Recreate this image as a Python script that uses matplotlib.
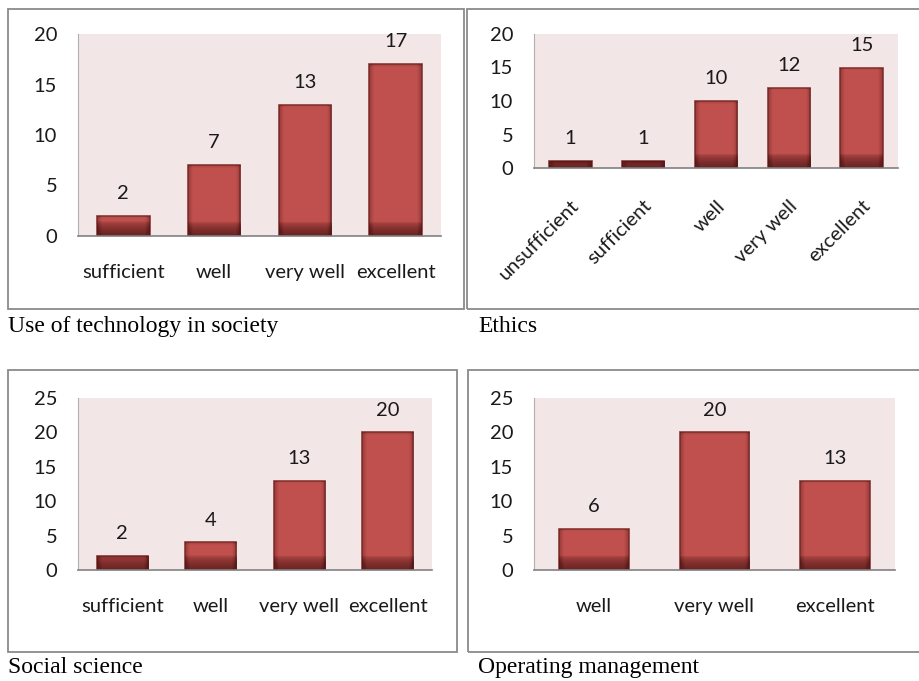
import matplotlib
matplotlib.use("Agg")
import matplotlib.pyplot as plt
import numpy as np
from matplotlib.patches import Rectangle

W, H = 919, 681

# data per panel
tech_cats = ["sufficient", "well", "very well", "excellent"]
tech_vals = [2, 7, 13, 17]

ethics_cats = ["unsufficient", "sufficient", "well", "very well", "excellent"]
ethics_vals = [1, 1, 10, 12, 15]

social_cats = ["sufficient", "well", "very well", "excellent"]
social_vals = [2, 4, 13, 20]

oper_cats = ["well", "very well", "excellent"]
oper_vals = [6, 20, 13]

BAR = "#C0504D"
EDGE = "#8C3836"
BG = "#F2E6E6"
FONT = "Lato"
SERIF = "Liberation Serif"
FS = 14.5

fig = plt.figure(figsize=(W / 100, H / 100), dpi=100)
fig.patch.set_facecolor("white")


def px_axes(l, t, r, b):
    return fig.add_axes([l / W, 1 - b / H, (r - l) / W, (b - t) / H])


def frame(l, t, r, b):
    fig.patches.append(Rectangle((l / W, 1 - b / H), (r - l) / W, (b - t) / H,
                                 transform=fig.transFigure, fill=False,
                                 edgecolor="#8a8a8a", lw=1.3))


def shade_bar(ax, x0, x1, v, px_per_unit, bar_px_w, rect):
    rows = max(int(v * px_per_unit), 2)
    cols = max(int(bar_px_w), 2)
    d = np.arange(rows)[:, None] + 0.5          # distance from bottom, px
    dx = np.arange(cols)[None, :] + 0.5
    edge = np.minimum(dx, cols - dx)
    a_v = np.clip(1 - d / 14.0, 0, 1) ** 0.5 * 0.72
    a_h = np.clip(1 - edge / 5.0, 0, 1) * 0.35
    a_t = np.clip(1 - (rows - d) / 3.0, 0, 1) * 0.25
    alpha = np.clip(a_v + a_h + a_t, 0, 0.8)
    img = np.zeros((rows, cols, 4))
    img[..., 0] = 0.28
    img[..., 1] = 0.07
    img[..., 2] = 0.07
    img[..., 3] = alpha
    im = ax.imshow(img, extent=[x0, x1, 0, v], origin="lower", aspect="auto",
                   interpolation="bilinear", zorder=3)
    im.set_clip_path(rect)


def panel(rect_px, cats, vals, ymax, rotate=False):
    l, t, r, b = rect_px
    ax = px_axes(l, t, r, b)
    ax.set_facecolor(BG)
    n = len(cats)
    x = np.arange(n)
    width = 0.58
    bars = ax.bar(x, vals, width=width, color=BAR, edgecolor=EDGE, lw=1.2, zorder=2)
    ax.set_xlim(-0.5, n - 0.5)
    ax.set_ylim(0, ymax)
    px_per_unit = (b - t) / ymax
    bar_px_w = width * (r - l) / n
    for xi, v, rect in zip(x, vals, bars):
        shade_bar(ax, xi - width / 2, xi + width / 2, v, px_per_unit, bar_px_w, rect)
        ax.annotate(str(v), (xi, v), xytext=(0, 10), textcoords="offset points",
                    ha="center", va="bottom", fontsize=FS, family=FONT, color="#1a1a1a")
    ax.set_yticks(np.arange(0, ymax + 1, 5))
    ax.set_xticks(x)
    if rotate:
        ax.set_xticklabels(cats, rotation=45, ha="right", va="top", rotation_mode="anchor")
        ax.tick_params(axis="x", length=0, pad=21)
    else:
        ax.set_xticklabels(cats)
        ax.tick_params(axis="x", length=0, pad=20)
    ax.tick_params(axis="y", length=0, pad=15)
    for lab in ax.get_xticklabels() + ax.get_yticklabels():
        lab.set_fontfamily(FONT)
        lab.set_fontsize(FS)
        lab.set_color("#1a1a1a")
    for s in ("top", "right"):
        ax.spines[s].set_visible(False)
    ax.spines["left"].set_color("#b0b0b0")
    ax.spines["left"].set_linewidth(0.8)
    ax.spines["bottom"].set_color("#808080")
    ax.spines["bottom"].set_linewidth(1.2)
    ax.spines["bottom"].set_zorder(4)
    return ax


frame(8, 9, 464, 309)
frame(467, 9, 922, 309)
frame(8, 370, 457, 652)
frame(468, 370, 922, 652)

panel((78, 34, 441, 236), tech_cats, tech_vals, 20)
panel((534, 34, 898, 168), ethics_cats, ethics_vals, 20, rotate=True)
panel((78, 398, 432, 570), social_cats, social_vals, 25)
panel((534, 398, 895, 570), oper_cats, oper_vals, 25)

captions = [("Use of technology in society", 8, 332),
            ("Ethics", 478, 332),
            ("Social science", 8, 673),
            ("Operating management", 478, 673)]
for txt, cx, cy in captions:
    fig.text(cx / W, 1 - cy / H, txt, family=SERIF, fontsize=17,
             ha="left", va="baseline", color="black")

fig.savefig("out.png", dpi=100)
